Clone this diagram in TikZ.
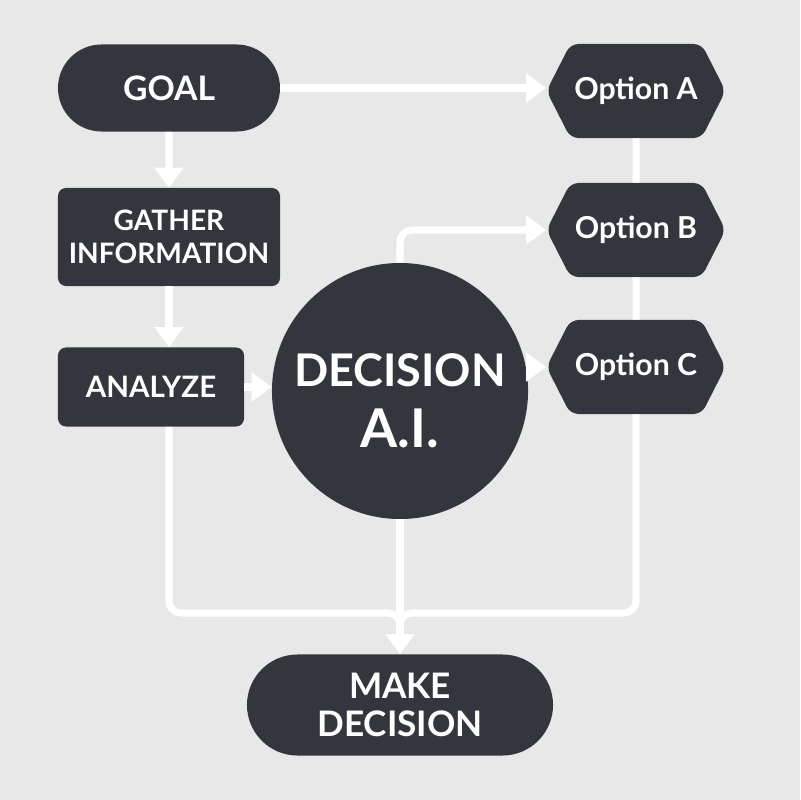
\documentclass[tikz,border=0pt]{standalone}
\usepackage{fontspec}
\setmainfont{Lato}
\usetikzlibrary{shapes.misc,shapes.symbols,arrows.meta}
\definecolor{panel}{HTML}{E8E8E8}
\definecolor{slate}{HTML}{33373D}
\tikzset{
  pill/.style={rounded rectangle, fill=slate, text=white, align=center, inner sep=0pt,
    font=\bfseries\fontsize{24}{27}\selectfont},
  stepbox/.style={rectangle, rounded corners=0.2cm, fill=slate, text=white, align=center,
    inner sep=0pt, font=\bfseries\fontsize{20}{23}\selectfont},
  option/.style={signal, signal to=east and west, signal pointer angle=126, rounded corners=0.2cm,
    fill=slate, text=white, minimum width=4.475cm, minimum height=2.35cm, inner sep=0pt,
    font=\bfseries\fontsize{21.5}{24}\selectfont},
  hub/.style={circle, fill=slate, text=white, minimum size=6.4cm, inner sep=0pt, align=center,
    font=\bfseries\fontsize{32}{43}\selectfont},
  flow/.style={white, line width=5pt, -{Triangle[width=0.7cm,length=0.5cm]}},
  link/.style={white, line width=5pt, rounded corners=0.3cm}
}
\begin{document}
\begin{tikzpicture}[x=0.025cm, y=-0.025cm]
  \fill[panel] (0,0) rectangle (800,800);

  \node[pill, minimum width=5.55cm, minimum height=2.175cm] (goal) at (169,88) {GOAL};
  \node[stepbox, minimum width=5.55cm, minimum height=2.45cm] (gather) at (169,237) {GATHER\\INFORMATION};
  \node[stepbox, minimum width=4.65cm, minimum height=1.975cm, font=\bfseries\fontsize{21}{25}\selectfont] (analyze) at (151,387) {ANALYZE};
  \node[hub] (ai) at (400,391) {\rule{0pt}{37pt}DECISION\\{\fontsize{38}{43}\selectfont A.I.}};
  \node[option] (optA) at (636,91) {Option A};
  \node[option] (optB) at (636,230) {Option B};
  \node[option] (optC) at (636,367) {Option C};
  \node[pill, minimum width=7.65cm, minimum height=2.525cm, font=\bfseries\fontsize{25}{27}\selectfont] (make) at (400,705) {MAKE\\DECISION};
  \coordinate (join) at (400,613);

  \draw[flow] (goal) -- (gather);
  \draw[flow] (gather.south) -- (gather.south |- analyze.north);
  \draw[flow] (analyze.east) -- (analyze.east -| ai.west);
  \draw[flow] (goal.east) -- (goal.east -| optA.west);
  \draw[flow, rounded corners=0.3cm] (ai.north) |- (optB.west);
  \draw[flow] (ai.east |- optC.west) -- (optC.west);
  \draw[link] (optA) -- (optB);
  \draw[link] (optB) -- (optC);
  \draw[link] (optC.south) |- (join) -- ++(0,30);
  \draw[link] (gather.south |- analyze.south) |- (join) -- ++(0,30);
  \draw[flow] (ai.south) -- (make.north);
\end{tikzpicture}
\end{document}
